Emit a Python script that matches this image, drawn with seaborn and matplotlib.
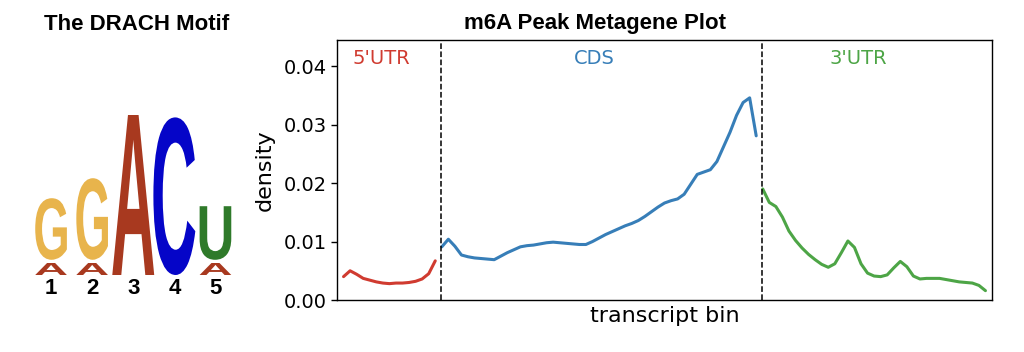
import numpy as np
import pandas as pd
import seaborn as sns
import matplotlib
matplotlib.use('Agg')
import matplotlib.pyplot as plt
from matplotlib.textpath import TextPath
from matplotlib.patches import PathPatch
from matplotlib.font_manager import FontProperties
from matplotlib.transforms import Affine2D

# Metagene density per transcript bin
region_names = ["5'UTR", "CDS", "3'UTR"]
region_colors = ['#d03b30', '#377eb8', '#4da546']

utr5_density = [0.0040, 0.0050, 0.0044, 0.0037, 0.0034, 0.0031, 0.0029, 0.0028,
                0.0029, 0.0029, 0.0030, 0.0032, 0.0036, 0.0045, 0.0067]
cds_density = [0.0091, 0.0104, 0.0092, 0.0077, 0.0074, 0.0072, 0.0071, 0.0070,
               0.0069, 0.0075, 0.0081, 0.0086, 0.0091, 0.0093, 0.0094, 0.0096,
               0.0098, 0.0099, 0.0098, 0.0097, 0.0096, 0.0095, 0.0095, 0.0100,
               0.0106, 0.0112, 0.0117, 0.0122, 0.0127, 0.0131, 0.0136, 0.0143,
               0.0151, 0.0159, 0.0166, 0.0170, 0.0173, 0.0181, 0.0198, 0.0215,
               0.0219, 0.0223, 0.0237, 0.0262, 0.0287, 0.0316, 0.0338, 0.0346,
               0.0281]
utr3_density = [0.0190, 0.0167, 0.0160, 0.0142, 0.0118, 0.0102, 0.0089, 0.0078,
                0.0069, 0.0061, 0.0056, 0.0062, 0.0081, 0.0101, 0.0090, 0.0062,
                0.0046, 0.0041, 0.0040, 0.0043, 0.0055, 0.0066, 0.0057, 0.0041,
                0.0036, 0.0037, 0.0037, 0.0037, 0.0035, 0.0033, 0.0031, 0.0030,
                0.0029, 0.0025, 0.0016]

# DRACH motif logo (heights in bits, stacked bottom to top)
logo_positions = [1, 2, 3, 4, 5]
logo_letters = [['A', 'G'], ['A', 'G'], ['A'], ['C'], ['A', 'U']]
logo_heights = [[0.19, 0.77], [0.19, 1.02], [2.0], [1.97], [0.19, 0.67]]
letter_colors = {'A': '#a8391f', 'C': '#0505c8', 'G': '#e8b44c', 'U': '#2f7a2a'}

sns.set_style('white', {'text.color': 'black', 'axes.labelcolor': 'black',
                        'xtick.color': 'black', 'ytick.color': 'black',
                        'axes.edgecolor': 'black'})

fig = plt.figure(figsize=(10.24, 3.52), dpi=100)

# ---- metagene plot ----
ax = fig.add_axes([337 / 1024, 52 / 352, 655 / 1024, 260 / 352])

series = [utr5_density, cds_density, utr3_density]
lengths = [len(s) for s in series]
df = pd.DataFrame({
    'bin': np.arange(1, sum(lengths) + 1),
    'density': np.concatenate(series),
    'region': np.repeat(region_names, lengths),
})
sns.lineplot(data=df, x='bin', y='density', hue='region',
             palette=dict(zip(region_names, region_colors)),
             linewidth=2.2, legend=False, ax=ax)

starts = np.cumsum(lengths)[:-1] + 1
for s in starts:
    ax.axvline(s - 0.1, color='black', linestyle='--', linewidth=1.1)

label_x = [6.7, 39.3, 79.6]
for name, col, lx in zip(region_names, region_colors, label_x):
    ax.text(lx, 0.0413, name, color=col, fontsize=14, ha='center', va='center')

ax.set_xlim(0, 100)
ax.set_ylim(0, 0.0445)
ax.set_xticks([])
ax.set_yticks([0, 0.01, 0.02, 0.03, 0.04])
ax.set_yticklabels(['0.00', '0.01', '0.02', '0.03', '0.04'])
ax.tick_params(axis='y', direction='out', length=4, width=1, labelsize=14, left=True)
ax.set_xlabel('transcript bin', fontsize=16, labelpad=4)
ax.set_ylabel('density', fontsize=16, labelpad=6)
for sp in ax.spines.values():
    sp.set_color('black')
    sp.set_linewidth(1.0)

fig.text(595 / 1024, 1 - 29 / 352, 'm6A Peak Metagene Plot', ha='center', va='baseline',
         fontsize=16, fontweight='bold', family='Liberation Sans', color='black')

# ---- sequence logo ----
lax = fig.add_axes([30.5 / 1024, 77 / 352, 205.5 / 1024, 175 / 352])
fp = FontProperties(family='Liberation Sans', weight='bold')


def draw_letter(axis, letter, xc, y0, w, h, color):
    tp = TextPath((0, 0), letter, size=1, prop=fp)
    bb = tp.get_extents()
    tr = Affine2D().translate(-bb.x0, -bb.y0).scale(w / bb.width, h / bb.height).translate(xc - w / 2, y0)
    axis.add_patch(PathPatch(tr.transform_path(tp), facecolor=color, edgecolor='none'))


for pos, letters, heights in zip(logo_positions, logo_letters, logo_heights):
    w = 1.02 if len(letters) == 1 else 0.77
    y = 0.0
    for i, (let, h) in enumerate(zip(letters, heights)):
        gap = 0.04 if i < len(letters) - 1 else 0.0
        draw_letter(lax, let, pos, y, w, h - gap, letter_colors[let])
        y += h

lax.set_xlim(0.5, 5.5)
lax.set_ylim(0, 175 / 80)
lax.set_xticks(logo_positions)
lax.set_xticklabels([str(p) for p in logo_positions], fontsize=16, fontweight='bold',
                    family='Liberation Sans')
lax.set_yticks([])
lax.tick_params(axis='x', length=0, pad=2)
for sp in lax.spines.values():
    sp.set_visible(False)

fig.text(137 / 1024, 1 - 30 / 352, 'The DRACH Motif', ha='center', va='baseline',
         fontsize=16, fontweight='bold', family='Liberation Sans', color='black')

fig.savefig('out.png', dpi=100)
